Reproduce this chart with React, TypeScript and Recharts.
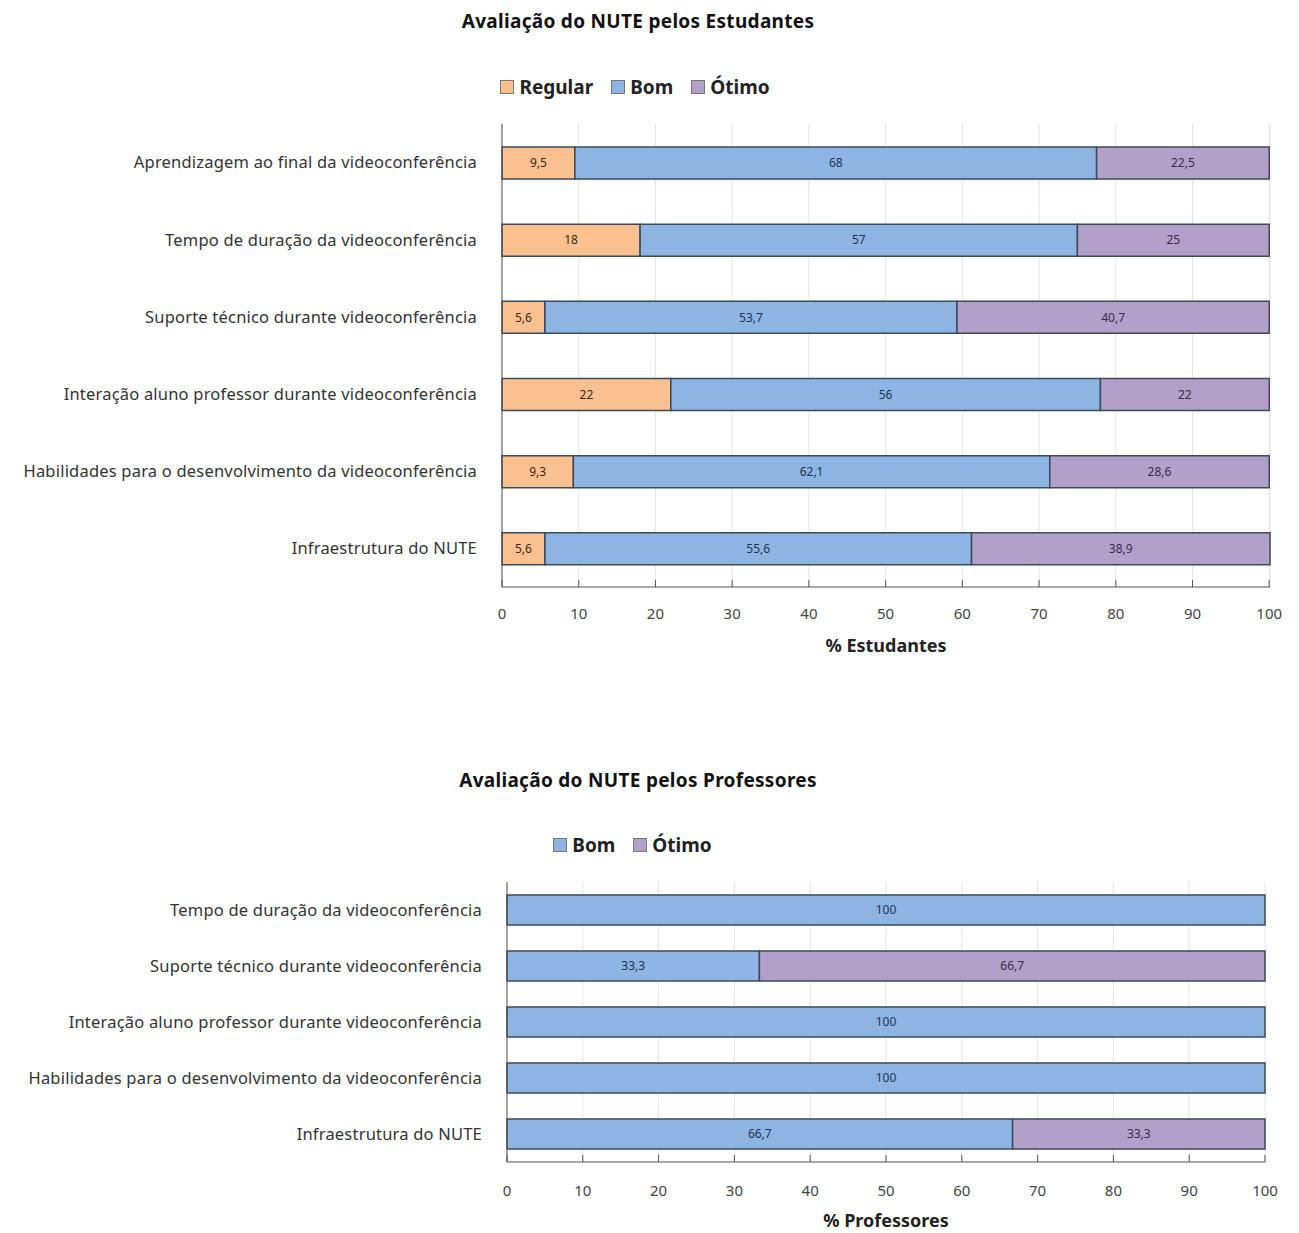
import React from 'react';
import { BarChart, Bar, XAxis, YAxis, CartesianGrid, Legend, LabelList } from 'recharts';

const studentCategories = [
  'Aprendizagem ao final da videoconferência',
  'Tempo de duração da videoconferência',
  'Suporte técnico durante videoconferência',
  'Interação aluno professor durante videoconferência',
  'Habilidades para o desenvolvimento da videoconferência',
  'Infraestrutura do NUTE',
];
const studentRegular = [9.5, 18, 5.6, 22, 9.3, 5.6];
const studentBom = [68, 57, 53.7, 56, 62.1, 55.6];
const studentOtimo = [22.5, 25, 40.7, 22, 28.6, 38.9];

const teacherCategories = [
  'Tempo de duração da videoconferência',
  'Suporte técnico durante videoconferência',
  'Interação aluno professor durante videoconferência',
  'Habilidades para o desenvolvimento da videoconferência',
  'Infraestrutura do NUTE',
];
const teacherBom = [100, 33.3, 100, 100, 66.7];
const teacherOtimo = [0, 66.7, 0, 0, 33.3];

const xTicks = [0, 10, 20, 30, 40, 50, 60, 70, 80, 90, 100];
const seriesOrder = ['Regular', 'Bom', 'Ótimo'];

const COLORS = { regular: '#FAC090', bom: '#8DB4E2', otimo: '#B1A0C7' };
const BAR_STROKE = '#3d4a58';
const FONT = '"Noto Sans", "Open Sans", sans-serif';

const studentData = studentCategories.map((name, i) => ({
  name,
  regular: studentRegular[i],
  bom: studentBom[i],
  otimo: studentOtimo[i],
}));

const teacherData = teacherCategories.map((name, i) => ({
  name,
  bom: teacherBom[i],
  otimo: teacherOtimo[i],
}));

const fmt = (v: any) => (v ? String(v).replace('.', ',') : '');

function LegendBox({ payload }: any) {
  const items = [...(payload || [])].sort(
    (a: any, b: any) => seriesOrder.indexOf(a.value) - seriesOrder.indexOf(b.value)
  );
  return (
    <div style={{ height: 57, display: 'flex', justifyContent: 'center', fontFamily: FONT }}>
      {items.map((p: any) => (
        <span
          key={p.value}
          style={{ display: 'inline-flex', alignItems: 'center', margin: '0 9px', height: 40, fontWeight: 700, fontSize: 19, color: '#222' }}
        >
          <span
            style={{ width: 12, height: 12, background: p.color, border: '1px solid #777', marginRight: 5, display: 'inline-block' }}
          />
          {p.value}
        </span>
      ))}
    </div>
  );
}

const titleStyle: React.CSSProperties = {
  position: 'absolute',
  left: 0,
  width: 1276,
  textAlign: 'center',
  fontFamily: FONT,
  fontWeight: 700,
  fontSize: 19,
  letterSpacing: 0.3,
  color: '#111',
};

const tickStyle = { fontSize: 15, fill: '#444', fontFamily: FONT };
const catTickStyle = { fontSize: 16.5, fill: '#333', fontFamily: FONT, letterSpacing: 0.2 };

export default function App() {
  return (
    <div style={{ position: 'absolute', left: 0, top: 0, width: 1299, height: 1233, background: '#fff' }}>
      <div style={{ ...titleStyle, top: 8 }}>Avaliação do NUTE pelos Estudantes</div>
      <div style={{ position: 'absolute', left: 0, top: 0 }}>
        <BarChart
          width={1299}
          height={657}
          data={studentData}
          layout="vertical"
          margin={{ top: 67, right: 29, bottom: 0, left: 0 }}
          barSize={32}
        >
          <CartesianGrid horizontal={false} stroke="#e4e4e4" />
          <XAxis
            type="number"
            domain={[0, 100]}
            ticks={xTicks}
            height={70}
            tickSize={-7}
            tickMargin={28}
            tick={tickStyle}
            stroke="#555"
            label={{ value: '% Estudantes', position: 'insideBottom', offset: 5, style: { fontSize: 18, fontWeight: 700, fill: '#222', fontFamily: FONT } }}
          />
          <YAxis type="category" dataKey="name" width={502} tickLine={false} tickMargin={19} tick={catTickStyle} stroke="#555" />
          <Legend verticalAlign="top" content={<LegendBox />} />
          <Bar dataKey="regular" name="Regular" stackId="a" fill={COLORS.regular} stroke={BAR_STROKE} strokeWidth={1.5} isAnimationActive={false}>
            <LabelList dataKey="regular" position="center" formatter={fmt} style={{ fontSize: 12, fill: '#3a2a1a', fontFamily: FONT }} />
          </Bar>
          <Bar dataKey="bom" name="Bom" stackId="a" fill={COLORS.bom} stroke={BAR_STROKE} strokeWidth={1.5} isAnimationActive={false}>
            <LabelList dataKey="bom" position="center" formatter={fmt} style={{ fontSize: 12, fill: '#1f3552', fontFamily: FONT }} />
          </Bar>
          <Bar dataKey="otimo" name="Ótimo" stackId="a" fill={COLORS.otimo} stroke={BAR_STROKE} strokeWidth={1.5} isAnimationActive={false}>
            <LabelList dataKey="otimo" position="center" formatter={fmt} style={{ fontSize: 12, fill: '#3a2d4a', fontFamily: FONT }} />
          </Bar>
        </BarChart>
      </div>

      <div style={{ ...titleStyle, top: 767 }}>Avaliação do NUTE pelos Professores</div>
      <div style={{ position: 'absolute', left: 0, top: 760 }}>
        <BarChart
          width={1299}
          height={473}
          data={teacherData}
          layout="vertical"
          margin={{ top: 65, right: 34, bottom: 0, left: 0 }}
          barSize={30}
        >
          <CartesianGrid horizontal={false} stroke="#e4e4e4" />
          <XAxis
            type="number"
            domain={[0, 100]}
            ticks={xTicks}
            height={71}
            tickSize={-7}
            tickMargin={30}
            tick={tickStyle}
            stroke="#555"
            label={{ value: '% Professores', position: 'insideBottom', offset: 6, style: { fontSize: 18, fontWeight: 700, fill: '#222', fontFamily: FONT } }}
          />
          <YAxis type="category" dataKey="name" width={507} tickLine={false} tickMargin={19} tick={catTickStyle} stroke="#555" />
          <Legend verticalAlign="top" content={<LegendBox />} />
          <Bar dataKey="bom" name="Bom" stackId="a" fill={COLORS.bom} stroke={BAR_STROKE} strokeWidth={1.5} isAnimationActive={false}>
            <LabelList dataKey="bom" position="center" formatter={fmt} style={{ fontSize: 12, fill: '#1f3552', fontFamily: FONT }} />
          </Bar>
          <Bar dataKey="otimo" name="Ótimo" stackId="a" fill={COLORS.otimo} stroke={BAR_STROKE} strokeWidth={1.5} isAnimationActive={false}>
            <LabelList dataKey="otimo" position="center" formatter={fmt} style={{ fontSize: 12, fill: '#3a2d4a', fontFamily: FONT }} />
          </Bar>
        </BarChart>
      </div>
    </div>
  );
}
